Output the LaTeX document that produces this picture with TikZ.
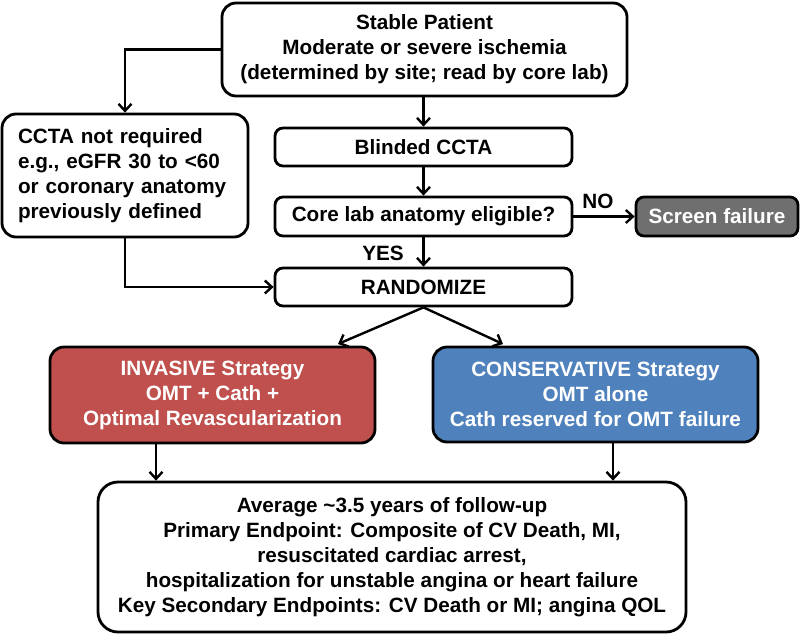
\documentclass[tikz,border=0pt]{standalone}
\usepackage{fontspec}
\setmainfont{Liberation Sans}
\usetikzlibrary{arrows.meta,calc}
\definecolor{invred}{HTML}{C0504D}
\definecolor{consblue}{HTML}{4F81BD}
\definecolor{failgray}{HTML}{6F6F6F}
\begin{document}
\begin{tikzpicture}[x=1pt,y=-1pt,
  every node/.style={font=\fontsize{20.7}{25}\selectfont\bfseries},
  box/.style={draw=black,line width=2.8pt,rounded corners=14pt,align=center,inner sep=0pt,fill=white},
  smallbox/.style={box,rounded corners=8pt},
  conn/.style={line width=2.4pt,-{Straight Barb[length=7pt,width=13pt,line width=2.4pt]}},
  lbl/.style={inner sep=0pt}]
\useasboundingbox (0,0) rectangle (800,635);
\node[box,minimum width=405pt,minimum height=93pt] (top) at (424.5,49.5)
  {Stable Patient\\Moderate or severe ischemia\\(determined by site; read by core lab)};
\node[box,minimum width=246pt,minimum height=123pt,text width=214pt,align=left,inner xsep=16pt] (ccta) at (125,175.5)
  {CCTA not required\\e.g., eGFR 30 to {<}60\\or coronary anatomy\\previously defined};
\node[smallbox,minimum width=297pt,minimum height=38pt] (blind) at (423.5,147) {Blinded CCTA};
\node[smallbox,minimum width=297pt,minimum height=39pt] (core) at (423.5,216.5) {Core lab anatomy eligible?};
\node[smallbox,minimum width=297pt,minimum height=38pt] (rand) at (423.5,287) {RANDOMIZE};
\node[smallbox,minimum width=162pt,minimum height=39pt,fill=failgray,text=white] (screen) at (717,216.5) {Screen failure};
\node[box,minimum width=325pt,minimum height=96pt,fill=invred,text=white] (inv) at (212.5,395)
  {INVASIVE Strategy\\OMT + Cath +\\Optimal Revascularization};
\node[box,minimum width=325pt,minimum height=95pt,fill=consblue,text=white] (cons) at (595.5,394.5)
  {CONSERVATIVE Strategy\\OMT alone\\Cath reserved for OMT failure};
\node[box,rounded corners=20pt,minimum width=588pt,minimum height=150pt] (bot) at (392,557)
  {Average \textasciitilde3.5 years of follow-up\\Primary Endpoint: Composite of CV Death, MI,\\resuscitated cardiac arrest,\\hospitalization for unstable angina or heart failure\\Key Secondary Endpoints: CV Death or MI; angina QOL};
\node[lbl] (yes) at (383,253) {YES};
\node[lbl] (no) at (598,201) {NO};
\coordinate (ta) at (338,344);
\coordinate (tb) at (503,344);
\draw[conn] (top.west) -| (ccta.north);
\draw[conn] (blind.north |- top.south) -- (blind.north);
\draw[conn] (blind.south) -- (core.north);
\draw[conn] (core.south) -- (rand.north);
\draw[conn] (core.east) -- (screen.west);
\draw[conn] (ccta.south) |- (rand.west);
\draw[conn] (rand.south) -- (ta);
\draw[conn] (rand.south) -- (tb);
\draw[conn] ([xshift=-56.5pt]inv.south) -- ([xshift=-56.5pt]inv.south |- bot.north);
\draw[conn] ([xshift=17.5pt]cons.south) -- ([xshift=17.5pt]cons.south |- bot.north);
\end{tikzpicture}
\end{document}
